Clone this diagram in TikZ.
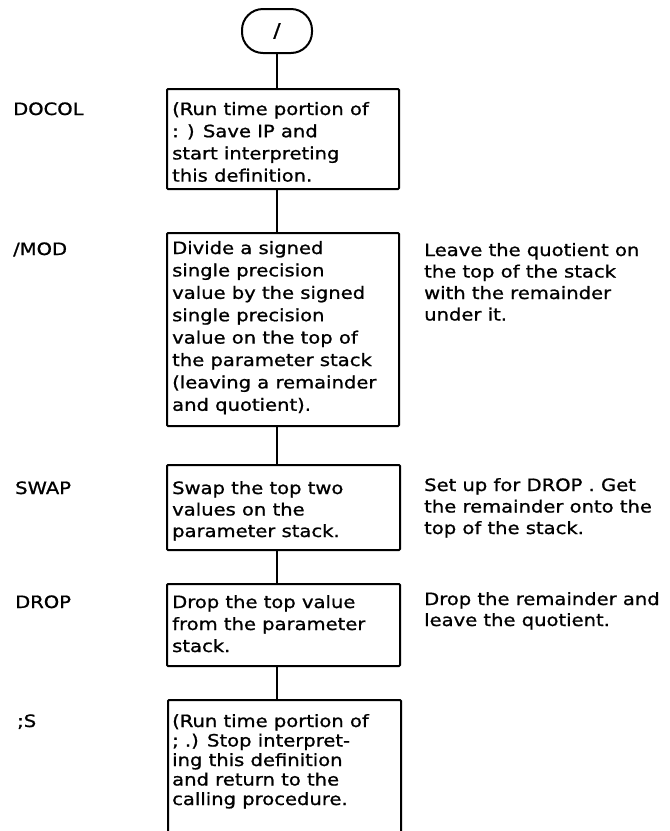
\documentclass[tikz,border=0pt]{standalone}
\usepackage{fontspec}
\setmainfont[FakeStretch=1.15,FakeBold=1]{DejaVu Sans}
\begin{document}
\begin{tikzpicture}[x=1pt,y=-1pt,
  box/.style={draw, line width=2pt, rectangle, rounded corners=1pt, inner sep=0pt, anchor=north west},
  term/.style={draw, line width=2pt, rectangle, rounded corners=21pt, minimum width=70pt, minimum height=44pt, inner sep=0pt, font=\fontsize{19}{22}\selectfont},
  txt/.style={anchor=base west, inner sep=0pt, font=\fontsize{17}{#1}\selectfont},
  txt/.default=22,
  lbl/.style={anchor=base west, inner sep=0pt, font=\fontsize{17}{22}\selectfont},
  conn/.style={line width=2pt}]
\useasboundingbox (0,0) rectangle (670,831);
\fill[white] (0,0) rectangle (670,831);
\clip (0,0) rectangle (670,831);

% terminal
\node[term] (oval) at (277,31) {/};

% boxes
\node[box, minimum width=232pt, minimum height=100pt] (b1) at (166,88) {};
\node[box, minimum width=232pt, minimum height=193pt] (b2) at (166,232) {};
\node[box, minimum width=233pt, minimum height=85pt] (b3) at (166,464) {};
\node[box, minimum width=233pt, minimum height=82pt] (b4) at (166,583) {};
\node[box, minimum width=233pt, minimum height=160pt] (b5) at (167,699) {};

% connectors
\draw[conn] (oval.south) -- (oval.south |- b1.north);
\draw[conn] (oval.south |- b1.south) -- (oval.south |- b2.north);
\draw[conn] (oval.south |- b2.south) -- (oval.south |- b3.north);
\draw[conn] (oval.south |- b3.south) -- (oval.south |- b4.north);
\draw[conn] (oval.south |- b4.south) -- (oval.south |- b5.north);

% box texts
\node[txt=22.2] (t1) at (172,115) {\begin{tabular}[t]{@{}l@{}}(Run time portion of\\: ) Save IP and\\start interpreting\\this definition.\end{tabular}};
\node[txt=22.4] (t2) at (172,254) {\begin{tabular}[t]{@{}l@{}}Divide a signed\\single precision\\value by the signed\\single precision\\value on the top of\\the parameter stack\\(leaving a remainder\\and quotient).\end{tabular}};
\node[txt=21.5] (t3) at (172,494) {\begin{tabular}[t]{@{}l@{}}Swap the top two\\values on the\\parameter stack.\end{tabular}};
\node[txt=22] (t4) at (172,608) {\begin{tabular}[t]{@{}l@{}}Drop the top value\\from the parameter\\stack.\end{tabular}};
\node[txt=19.5] (t5) at (172,727) {\begin{tabular}[t]{@{}l@{}}(Run time portion of\\; .) Stop interpret-\\ing this definition\\and return to the\\calling procedure.\end{tabular}};

% right column
\node[txt=21.5] (r2) at (424,256) {\begin{tabular}[t]{@{}l@{}}Leave the quotient on\\the top of the stack\\with the remainder\\under it.\end{tabular}};
\node[txt=21.5] (r3) at (424,491) {\begin{tabular}[t]{@{}l@{}}Set up for DROP . Get\\the remainder onto the\\top of the stack.\end{tabular}};
\node[txt=21] (r4) at (424,605) {\begin{tabular}[t]{@{}l@{}}Drop the remainder and\\leave the quotient.\end{tabular}};

% labels
\node[lbl] (l1) at (13,115) {DOCOL};
\node[lbl] (l2) at (13,255) {/MOD};
\node[lbl] (l3) at (15,494) {SWAP};
\node[lbl] (l4) at (15,608) {DROP};
\node[lbl] (l5) at (17,727) {;S};
\end{tikzpicture}
\end{document}
